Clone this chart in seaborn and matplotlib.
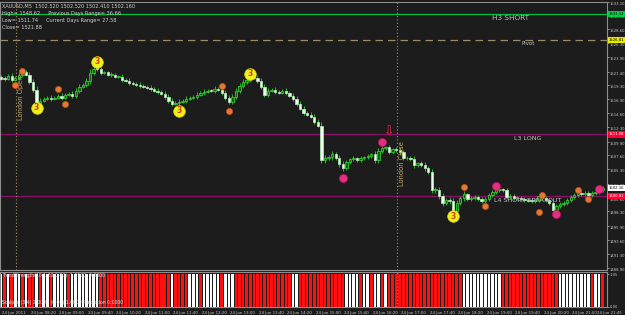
import numpy as np
import pandas as pd
import matplotlib
matplotlib.use("Agg")
import matplotlib.pyplot as plt
import seaborn as sns

# ---------------- data ----------------
first_open = 1520.60
closes = [
    1520.35, 1520.30, 1520.85, 1520.19, 1520.52, 1521.02, 1521.51, 1521.02, 1519.86, 1518.53,
    1516.38, 1516.71, 1517.04, 1517.21, 1517.04, 1517.21, 1517.54, 1517.21, 1517.70, 1517.87,
    1517.54, 1518.37, 1519.03, 1519.36, 1520.02, 1521.35, 1522.01, 1521.95, 1521.35, 1521.40,
    1521.02, 1521.05, 1520.68, 1520.70, 1520.19, 1520.02, 1519.69, 1519.53, 1519.36, 1519.19,
    1519.03, 1518.86, 1518.70, 1518.37, 1518.20, 1517.87, 1517.37, 1516.71, 1516.21, 1516.38,
    1516.54, 1516.71, 1517.04, 1517.21, 1517.37, 1517.70, 1518.03, 1518.20, 1518.37, 1518.30,
    1518.70, 1518.53, 1518.03, 1517.21, 1516.54, 1517.37, 1518.37, 1519.19, 1519.86, 1520.19,
    1520.85, 1520.52, 1520.02, 1519.03, 1517.70, 1518.37, 1518.53, 1518.20, 1518.03, 1518.37,
    1518.03, 1517.54, 1517.04, 1516.21, 1515.39, 1514.72, 1514.39, 1514.06, 1513.23, 1512.57,
    1506.77, 1507.11, 1507.27, 1507.77, 1507.11, 1506.11, 1505.45, 1506.44, 1506.94, 1507.11,
    1506.77, 1507.11, 1507.27, 1507.44, 1507.77, 1506.77, 1508.27, 1508.76, 1508.93, 1508.10,
    1508.60, 1508.43, 1508.10, 1507.11, 1507.15, 1507.05, 1505.95, 1506.28, 1505.95, 1505.45,
    1504.79, 1501.81, 1501.85, 1500.81, 1499.65, 1500.15, 1499.98, 1498.33, 1499.65, 1500.48,
    1501.14, 1500.32, 1500.48, 1500.65, 1500.32, 1499.98, 1500.32, 1500.98, 1501.48, 1501.81,
    1501.97, 1501.81, 1500.65, 1500.81, 1500.48, 1500.50, 1500.32, 1500.15, 1500.10, 1499.98,
    1500.15, 1500.81, 1500.48, 1500.15, 1499.65, 1498.49, 1499.16, 1499.49, 1499.65, 1500.15,
    1500.65, 1500.98, 1501.31, 1501.14, 1501.31, 1500.98, 1501.31, 1501.48, 1501.81, 1502.16,
]
wicks = [
    0.3, 0.4, 0.3, 0.5, 0.3, 0.4, 0.5, 0.3, 0.4, 0.5,
    0.6, 0.4, 0.3, 0.3, 0.4, 0.3, 0.3, 0.4, 0.3, 0.3,
    0.4, 0.5, 0.4, 0.3, 0.5, 0.6, 0.4, 0.3, 0.4, 0.3,
    0.3, 0.4, 0.3, 0.3, 0.4, 0.3, 0.4, 0.3, 0.3, 0.4,
    0.3, 0.3, 0.4, 0.3, 0.4, 0.3, 0.5, 0.4, 0.5, 0.3,
    0.4, 0.3, 0.4, 0.3, 0.3, 0.4, 0.3, 0.4, 0.3, 0.3,
    0.4, 0.3, 0.4, 0.5, 0.5, 0.4, 0.5, 0.4, 0.5, 0.4,
    0.5, 0.3, 0.4, 0.5, 0.5, 0.4, 0.3, 0.4, 0.3, 0.3,
    0.4, 0.3, 0.4, 0.5, 0.4, 0.5, 0.3, 0.4, 0.5, 0.4,
    0.6, 0.5, 0.4, 0.5, 0.4, 0.5, 0.6, 0.4, 0.3, 0.4,
    0.3, 0.4, 0.3, 0.4, 0.3, 0.5, 0.5, 0.4, 0.3, 0.4,
    0.3, 0.4, 0.5, 0.4, 0.3, 0.4, 0.5, 0.3, 0.4, 0.5,
    0.4, 0.6, 0.5, 0.5, 0.6, 0.4, 0.5, 0.6, 0.5, 0.4,
    0.5, 0.3, 0.4, 0.3, 0.4, 0.3, 0.4, 0.3, 0.4, 0.3,
    0.4, 0.3, 0.4, 0.3, 0.4, 0.3, 0.3, 0.4, 0.3, 0.4,
    0.3, 0.4, 0.3, 0.4, 0.4, 0.5, 0.4, 0.3, 0.4, 0.3,
    0.4, 0.3, 0.4, 0.3, 0.4, 0.3, 0.3, 0.4, 0.3, 0.3,
]
# bottom indicator: R = red bar, W = white bar
ind_colors = ("WRWRWWRWRRWR" "WWRWWWWRWWWWWWWW" "RRRRRRRRRRRRRRRRRRRR" "W" "RRRR"
              "WWWRWWWWWRWWW" "RRRRRRRRRRRRRRRR" "WW" "RRRRRRRRRRRRR" "WWWWRW" "WRWWRW"
              "RRRRRRRRRRRRRRRRRRRRR" "WWWWWWWWWWW" "RRRRRRRRRRRRRRRR" "WWWWWWWWW" "RWWR")
ind_value = 1.05

price_ticks = [1488.90, 1491.30, 1493.60, 1495.90, 1498.30, 1500.60, 1502.90, 1505.30,
               1507.60, 1509.90, 1512.30, 1514.60, 1516.90, 1519.30, 1521.40, 1523.90,
               1526.30, 1528.60, 1530.90, 1533.10]
time_labels = ["24 Jun 2011", "24 Jun 08:20", "24 Jun 09:00", "24 Jun 09:40", "24 Jun 10:20",
               "24 Jun 11:00", "24 Jun 11:40", "24 Jun 12:20", "24 Jun 13:00", "24 Jun 13:40",
               "24 Jun 14:20", "24 Jun 15:00", "24 Jun 15:40", "24 Jun 16:20", "24 Jun 17:00",
               "24 Jun 17:40", "24 Jun 18:20", "24 Jun 19:00", "24 Jun 19:40", "24 Jun 20:20",
               "24 Jun 21:00", "24 Jun 21:45"]
time_bars = [0, 8, 16, 24, 32, 40, 48, 56, 64, 72, 80, 88, 96, 104, 112, 120, 128, 136,
             144, 152, 160, 167]

level_names = ["H3 SHORT", "Pivot", "L3 LONG", "L4 SHORT BREAKOUT"]
level_values = [1531.12, 1526.81, 1511.08, 1500.81]
current_price = 1502.16

yellow_bars = [10, 27, 50, 70, 127]
yellow_prices = [1515.55, 1523.17, 1515.05, 1521.18, 1497.50]
orange_bars = [4, 6, 16, 18, 62, 64, 130, 136, 151, 152, 162, 165]
orange_prices = [1519.36, 1521.68, 1518.70, 1516.20, 1519.20, 1515.05, 1502.30, 1499.16,
                 1498.16, 1500.98, 1501.81, 1500.32]
magenta_bars = [96, 107, 139, 156, 168]
magenta_prices = [1503.80, 1509.75, 1502.47, 1497.83, 1501.97]
arrow_bar, arrow_price = 109, 1511.40
london_open_bar, london_close_bar = 4.2, 111.2

header = ["XAUUSD,M5  1502.520 1502.520 1502.410 1502.160",
          "High= 1548.62     Previous Days Range= 36.66",
          "Low= 1511.74     Current Days Range= 27.58",
          "Close= 1521.88"]

# ---------------- figure ----------------
BG = "#1c1c1c"
sns.set_theme(style="dark")
plt.rcParams["font.family"] = ["DejaVu Sans"]
W, H = 625, 315
fig = plt.figure(figsize=(W / 100, H / 100), dpi=100, facecolor=BG)
ax = fig.add_axes([0 / W, (H - 270) / H, 607 / W, 268 / H], facecolor=BG)
ax2 = fig.add_axes([0 / W, (H - 307) / H, 607 / W, 35 / H], facecolor=BG)

n = len(closes)
idx = np.arange(n)
opens = [first_open] + closes[:-1]
df = pd.DataFrame({"i": idx, "open": opens, "close": closes, "wick": wicks})
df["top"] = df[["open", "close"]].max(axis=1)
df["bot"] = df[["open", "close"]].min(axis=1)
df["high"] = df["top"] + df["wick"]
df["low"] = df["bot"] - df["wick"] * 0.8
df["up"] = df["close"] >= df["open"]

# wicks
ax.vlines(df["i"], df["low"], df["high"], color="#2db42d", lw=0.7, zorder=2)
# bodies
hgt = (df["top"] - df["bot"]).clip(lower=0.14)
up = df[df["up"]]
dn = df[~df["up"]]
ax.bar(up["i"], hgt[df["up"]], bottom=up["bot"], width=0.66, color="#145c14",
       edgecolor="#33cc33", linewidth=0.6, zorder=3)
ax.bar(dn["i"], hgt[~df["up"]], bottom=dn["bot"], width=0.66, color="#eafcea",
       edgecolor="#b8f0b8", linewidth=0.5, zorder=3)

# levels
ax.axhline(level_values[0], color="#00c040", lw=0.9, zorder=1)
ax.axhline(level_values[1], color="#a08a66", lw=0.9, ls=(0, (6, 4)), zorder=1)
ax.axhline(level_values[2], color="#8a1068", lw=0.9, zorder=1)
ax.axhline(level_values[3], color="#8a1068", lw=0.9, zorder=1)
lbl_x = [143, 148, 148, 148]
lbl_fs = [5.2, 4.0, 4.6, 4.6]
for name, v, lx, fs in zip(level_names, level_values, lbl_x, lbl_fs):
    ax.text(lx, v - 0.25, name, color="#c0c0c8", fontsize=fs, ha="center", va="top", zorder=4)

# session lines
for b, name, y0 in [(london_open_bar, "London Open", 1517.2), (london_close_bar, "London Close", 1506.3)]:
    ax.axvline(b, color="#b09060", lw=0.8, ls=(0, (1, 2)), zorder=1)
    ax.text(b + 0.6, y0, name, color="#c8a868", fontsize=4.8, rotation=90,
            ha="left", va="center", zorder=4)
ax2.axvline(london_close_bar, color="#c8b040", lw=0.8, ls=(0, (1, 2)), zorder=3)

# markers
mk = pd.DataFrame({
    "i": yellow_bars + orange_bars + magenta_bars,
    "p": yellow_prices + orange_prices + magenta_prices,
    "kind": ["y"] * len(yellow_bars) + ["o"] * len(orange_bars) + ["m"] * len(magenta_bars),
})
sns.scatterplot(data=mk[mk.kind == "y"], x="i", y="p", s=70, color="#f0f020",
                edgecolor="#d8d800", linewidth=0.5, ax=ax, zorder=5, legend=False)
sns.scatterplot(data=mk[mk.kind == "o"], x="i", y="p", s=20, color="#e07a30",
                edgecolor="#c04a20", linewidth=0.5, ax=ax, zorder=5, legend=False)
sns.scatterplot(data=mk[mk.kind == "m"], x="i", y="p", s=34, color="#e0307f",
                edgecolor="#c01060", linewidth=0.5, ax=ax, zorder=5, legend=False)
for b, p in zip(yellow_bars, yellow_prices):
    ax.text(b, p, "3", color="#d04010", fontsize=5.5, ha="center", va="center",
            fontweight="bold", zorder=6)
ax.text(arrow_bar, arrow_price, "\u21e9", color="#ff2050", fontsize=9, ha="center",
        va="center", zorder=6)

# header text
for k, line in enumerate(header):
    ax.text(0.004, 0.995 - k * 0.027, line, transform=ax.transAxes, color="#d0d0d0",
            fontsize=3.6, ha="left", va="top", zorder=6)

# axes styling main
ax.set_xlim(-0.28, 170.2)
ax.set_ylim(1488.56, 1532.94)
ax.yaxis.tick_right()
ax.set_yticks(price_ticks)
ax.set_yticklabels([f"{v:.2f}" for v in price_ticks])
ax.tick_params(axis="y", colors="#c8c8c8", labelsize=2.7, length=1.5, width=0.5, pad=0.6,
               right=True, left=False)
for lab in ax.get_yticklabels():
    lab.set_va("top")
ax.set_xticks([])
ax.set_xlabel("")
ax.set_ylabel("")
for s in ax.spines.values():
    s.set_color("#8c8c8c")
    s.set_linewidth(0.8)
ax.grid(False)

# right-axis price boxes
boxes = [(level_values[0], "#00d048", "#000000"), (level_values[1], "#e8e800", "#000000"),
         (level_values[2], "#ff0030", "#ffffff"), (current_price, "#ffffff", "#000000"),
         (level_values[3], "#ff0030", "#ffffff")]
for v, fc, tc in boxes:
    ax.text(1.003, v, f"{v:.2f}", transform=ax.get_yaxis_transform(), color=tc,
            fontsize=2.7, ha="left", va="center", clip_on=False, zorder=7,
            bbox=dict(boxstyle="square,pad=0.3", fc=fc, ec="none"))

# bottom indicator panel
cols = ["#ff1010" if c == "R" else "#ffffff" for c in ind_colors]
ax2.bar(idx, [ind_value] * n, width=0.72, color=cols, linewidth=0, zorder=2)
ax2.set_xlim(-0.28, 170.2)
ax2.set_ylim(0, 1.12)
ax2.yaxis.tick_right()
ax2.set_yticks([0.0, 1.05])
ax2.set_yticklabels(["0.00", "1.05"])
ax2.tick_params(axis="y", colors="#c8c8c8", labelsize=2.7, length=1.5, width=0.5, pad=0.6)
ax2.set_xticks(time_bars)
ax2.set_xticklabels([])
ax2.tick_params(axis="x", colors="#8c8c8c", length=2, width=0.5, direction="out")
for b, t in zip(time_bars, time_labels):
    ax2.text(b + 0.4, -0.12, t, color="#c8c8c8", fontsize=2.8, ha="left", va="top",
             clip_on=False)
for s in ax2.spines.values():
    s.set_color("#8c8c8c")
    s.set_linewidth(0.8)
ax2.grid(False)
ax2.set_xlabel("")
ax2.set_ylabel("")
ax2.text(0.004, 0.97, "TrendStrength(10,1.32,0.00)  1.0500  0.0000", transform=ax2.transAxes,
         color="#e0e0e0", fontsize=3.3, ha="left", va="top", zorder=5)
ax2.text(0.004, 0.05, "Scalper (3,4) 2.0000 (0.00) 1.0000 Prediction 0.0000",
         transform=ax2.transAxes, color="#e0e0e0", fontsize=3.3, ha="left", va="bottom", zorder=5)

fig.savefig("out.png", dpi=100, facecolor=BG)
